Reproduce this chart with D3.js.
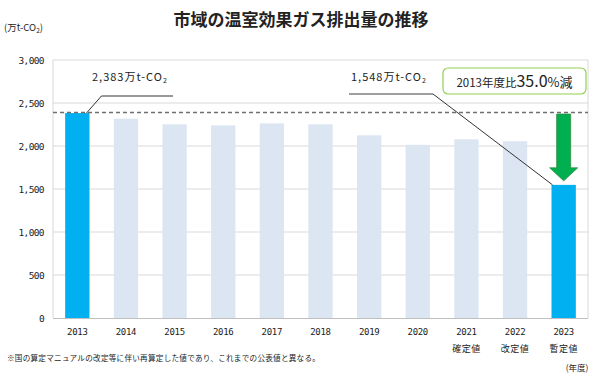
<!DOCTYPE html>
<html><head><meta charset="utf-8">
<script src="https://cdn.jsdelivr.net/npm/d3@7"></script>
<style>body{margin:0;background:#fff;} svg{display:block;font-family:"Noto Sans CJK JP","Noto Sans",sans-serif;}</style>
</head><body>
<svg id="c" width="600" height="378"></svg>
<script>
const years = ["2013","2014","2015","2016","2017","2018","2019","2020","2021","2022","2023"];
const subLabels = ["","","","","","","","","確定値","改定値","暫定値"];
const values = [2383,2318,2252,2240,2263,2252,2124,2014,2078,2055,1548];
const highlight = [true,false,false,false,false,false,false,false,false,false,true];
const yTicks = [0,500,1000,1500,2000,2500,3000];

const svg = d3.select("#c");
const L=53, R=588, T=60, B=318;
const x = d3.scaleBand().domain(years).range([L,R]).paddingInner(0.5).paddingOuter(0.25);
const y = d3.scaleLinear().domain([0,3000]).range([B,T]);

// title
svg.append("text").attr("x",301).attr("y",26).attr("text-anchor","middle")
  .attr("font-size",17).attr("font-weight","bold").attr("fill","#222").text("市域の温室効果ガス排出量の推移");
svg.append("text").attr("x",4).attr("y",31).attr("font-size",9.5).attr("fill","#222")
  .html('(万t-CO<tspan font-size="6.5" dy="2">2</tspan><tspan dy="-2">)</tspan>');

// grid
svg.append("g").selectAll("line").data(yTicks.filter(d=>d>0)).join("line")
  .attr("x1",L).attr("x2",R).attr("y1",d=>y(d)).attr("y2",d=>y(d))
  .attr("stroke","#d9d9d9").attr("stroke-width",1.2);
svg.append("line").attr("x1",L).attr("x2",L).attr("y1",T).attr("y2",B).attr("stroke","#d9d9d9");
svg.append("line").attr("x1",R).attr("x2",R).attr("y1",T).attr("y2",B).attr("stroke","#d9d9d9");

// y axis
const ya = svg.append("g").attr("transform",`translate(${L},0)`)
  .call(d3.axisLeft(y).tickValues(yTicks).tickFormat(d3.format(",")).tickSize(0).tickPadding(9));
ya.select(".domain").remove();
ya.selectAll("text").attr("font-size",9.5).attr("fill","#222").attr("font-family","DejaVu Sans Mono, monospace").attr("letter-spacing",-0.6);

// bars
svg.append("g").selectAll("rect").data(years).join("rect")
  .attr("x",d=>x(d)).attr("width",x.bandwidth())
  .attr("y",(d,i)=>y(values[i])).attr("height",(d,i)=>B-y(values[i]))
  .attr("fill",(d,i)=>highlight[i]?"#00b0f0":"#dce6f2");

// x axis line
svg.append("line").attr("x1",L).attr("x2",R).attr("y1",B+0.5).attr("y2",B+0.5).attr("stroke","#bfbfbf");

// x labels
const xg = svg.append("g");
xg.selectAll("text.yr").data(years).join("text").attr("class","yr")
  .attr("x",d=>x(d)+x.bandwidth()/2).attr("y",335).attr("text-anchor","middle")
  .attr("font-size",9).attr("fill","#222").attr("font-family","DejaVu Sans Mono, monospace").attr("letter-spacing",-0.3).text(d=>d);
xg.selectAll("text.sub").data(years).join("text").attr("class","sub")
  .attr("x",d=>x(d)+x.bandwidth()/2).attr("y",352).attr("text-anchor","middle")
  .attr("font-size",9).attr("fill","#222").attr("letter-spacing",0.5).text((d,i)=>subLabels[i]);
svg.append("text").attr("x",577).attr("y",371).attr("text-anchor","middle").attr("font-size",8.5).attr("fill","#222").text("(年度)");
svg.append("text").attr("x",7).attr("y",361).attr("font-size",7.6).attr("letter-spacing",0.25).attr("fill","#222")
  .text("※国の算定マニュアルの改定等に伴い再算定した値であり、これまでの公表値と異なる。");

// dashed reference line
svg.append("line").attr("x1",L).attr("x2",R).attr("y1",y(values[0])-0.5).attr("y2",y(values[0])-0.5)
  .attr("stroke","#6f6f6f").attr("stroke-width",1.4).attr("stroke-dasharray","4,3");

// annotation 2013
const x13 = x(years[0])+x.bandwidth();
svg.append("path").attr("d",`M${x13-3},${y(values[0])} L${x13+12},96 L173,96`).attr("fill","none").attr("stroke","#333").attr("stroke-width",1);
svg.append("text").attr("x",92).attr("y",81).attr("font-size",11).attr("letter-spacing",1).attr("fill","#222")
  .html('2,383万t-CO<tspan font-size="7" dy="2">2</tspan>');

// annotation 2023
const x23 = x(years[10]);
svg.append("line").attr("x1",349).attr("x2",433).attr("y1",94).attr("y2",94).attr("stroke","#7f7f7f").attr("stroke-width",1.6);
svg.append("line").attr("x1",433).attr("y1",94).attr("x2",x23+1).attr("y2",y(values[10])).attr("stroke","#333").attr("stroke-width",1);
svg.append("text").attr("x",351).attr("y",81).attr("font-size",11).attr("letter-spacing",1).attr("fill","#222")
  .html('1,548万t-CO<tspan font-size="7" dy="2">2</tspan>');

// box
svg.append("rect").attr("x",443).attr("y",68).attr("width",143).attr("height",26).attr("rx",5)
  .attr("fill","#fff").attr("stroke","#92d050").attr("stroke-width",1.2);
svg.append("text").attr("x",514.5).attr("y",87).attr("text-anchor","middle").attr("fill","#222")
  .html('<tspan font-size="11.5">2013年度比</tspan><tspan font-size="16">35.0</tspan><tspan font-size="13">%減</tspan>');

// green arrow
const ax = x23 + x.bandwidth()/2;
const at = y(values[0])+1, ab = y(values[10])-4;
svg.append("path").attr("d",`M${ax-7},${at} L${ax+7},${at} L${ax+7},${ab-13} L${ax+14},${ab-13} L${ax},${ab} L${ax-14},${ab-13} L${ax-7},${ab-13} Z`)
  .attr("fill","#00b050").attr("stroke","#2e8b3e").attr("stroke-width",0.8);
</script>
</body></html>
